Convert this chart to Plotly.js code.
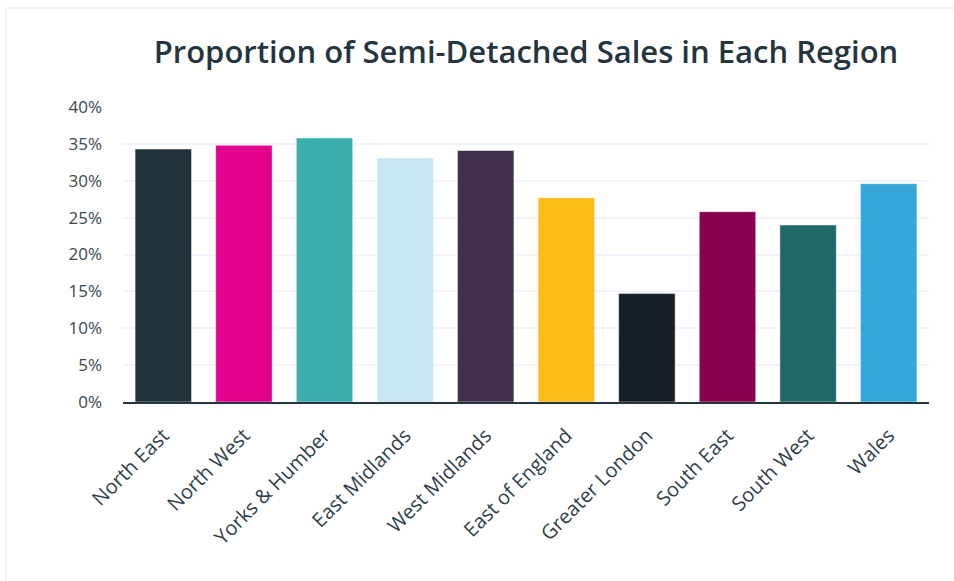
<!DOCTYPE html>
<html>
<head>
<meta charset="utf-8">
<script src="https://cdn.plot.ly/plotly-3.0.1.min.js"></script>
<style>
  html, body { margin: 0; padding: 0; background: #ffffff; }
  #frame { position: absolute; left: 5px; top: 7px; width: 949px; height: 574px;
           border-top: 2px solid #f4f4fb; border-left: 2px solid #f4f4fb; box-sizing: border-box; }
  #chart { position: absolute; left: 0; top: 0; width: 954px; height: 581px; }
</style>
</head>
<body>
<div id="frame"></div>
<div id="chart"></div>
<script>
const regions = ["North East", "North West", "Yorks & Humber", "East Midlands", "West Midlands",
                 "East of England", "Greater London", "South East", "South West", "Wales"];
const semiDetachedShare = [34.3, 34.8, 35.8, 33.1, 34.1, 27.7, 14.7, 25.8, 24.0, 29.6];
const barColors = ["#22333d", "#e2028b", "#3aafad", "#c5e6f2", "#442f4e",
                   "#fbbc18", "#172027", "#88004e", "#216869", "#35a7d8"];
const tickValues = [0, 5, 10, 15, 20, 25, 30, 35, 40];
const tickLabels = ["0%", "5%", "10%", "15%", "20%", "25%", "30%", "35%", "40%"];

const trace = {
  type: "bar",
  x: regions,
  y: semiDetachedShare,
  marker: { color: barColors, line: { color: "rgba(255,255,255,0.45)", width: 1 } },
  hoverinfo: "x+y"
};

const layout = {
  width: 954, height: 581,
  paper_bgcolor: "rgba(0,0,0,0)",
  plot_bgcolor: "rgba(0,0,0,0)",
  margin: { l: 123, r: 25, t: 107, b: 179 },
  bargap: 0.3,
  showlegend: false,
  title: {
    text: "Proportion of Semi-Detached Sales in Each Region",
    font: { family: "Open Sans, sans-serif", size: 31, weight: 600, color: "#243540" },
    x: 0.5, xref: "paper", xanchor: "center",
    y: 1 - 52 / 581, yref: "container", yanchor: "middle"
  },
  xaxis: {
    type: "category",
    tickangle: -45,
    tickfont: { family: "Open Sans, sans-serif", size: 20, color: "#2f3f49" },
    ticklabelstandoff: 12,
    showline: true, linecolor: "#25353f", linewidth: 2,
    showgrid: false, ticks: "", automargin: false
  },
  yaxis: {
    range: [0, 40],
    tickvals: tickValues,
    ticktext: tickLabels,
    tickfont: { family: "Open Sans, sans-serif", size: 17, color: "#3a4850" },
    ticklabelstandoff: 20,
    gridcolor: "#f3f3fb", gridwidth: 2,
    zeroline: false, showline: false, ticks: "", ticklen: 0,
    automargin: false
  }
};

Plotly.newPlot("chart", [trace], layout, { displayModeBar: false, staticPlot: true });
</script>
</body>
</html>
